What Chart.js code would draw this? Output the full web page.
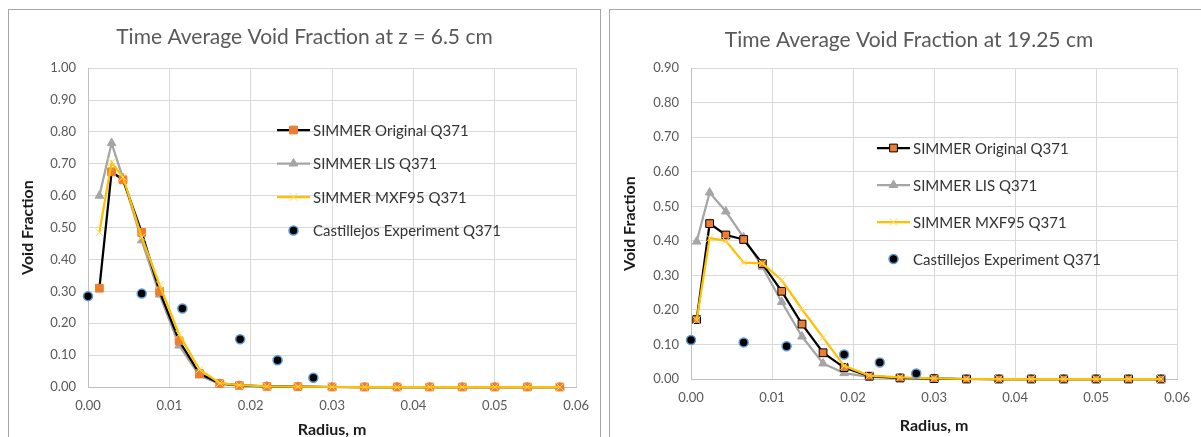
<!DOCTYPE html>
<html>
<head>
<meta charset="utf-8">
<script src="https://cdn.jsdelivr.net/npm/chart.js@4/dist/chart.umd.min.js"></script>
<style>
body { margin: 0; background: #fff; width: 1201px; height: 437px; overflow: hidden; position: relative; }
.frame { position: absolute; border: 1px solid #a6a6a6; border-bottom: none; }
canvas { position: absolute; }
</style>
</head>
<body>
<div class="frame" style="left:8px;top:9px;width:591px;height:440px"></div>
<div class="frame" style="left:609px;top:9px;width:600px;height:440px;border-right:none"></div>
<canvas id="chartLeft" width="591" height="427" style="left:9px;top:10px"></canvas>
<canvas id="chartRight" width="591" height="427" style="left:610px;top:10px"></canvas>
<script>
// --- z = 6.5 cm ---
const radiusLeft = [0.0014, 0.0029, 0.0043, 0.0066, 0.0088, 0.0112, 0.0137, 0.0162, 0.0186, 0.0220,
    0.0258, 0.0300, 0.0340, 0.0380, 0.0420, 0.0460, 0.0500, 0.0540, 0.0580];
const originalLeft = [0.31, 0.675, 0.65, 0.485, 0.30, 0.145, 0.042, 0.011, 0.005, 0.002,
    0.001, 0, 0, 0, 0, 0, 0, 0, 0];
const lisLeft = [0.60, 0.765, 0.655, 0.46, 0.29, 0.13, 0.036, 0.010, 0.004, 0.002,
    0.001, 0, 0, 0, 0, 0, 0, 0, 0];
const mxfLeft = [0.485, 0.705, 0.658, 0.47, 0.32, 0.165, 0.055, 0.012, 0.006, 0.002,
    0.001, 0, 0, 0, 0, 0, 0, 0, 0];
const expRadiusLeft = [0.0, 0.0066, 0.0116, 0.0187, 0.0233, 0.0277];
const expLeft = [0.285, 0.293, 0.246, 0.150, 0.084, 0.029];

// --- z = 19.25 cm ---
const radiusRight = [0.0007, 0.0023, 0.0043, 0.0065, 0.0088, 0.0112, 0.0137, 0.0163, 0.0189, 0.0220,
    0.0258, 0.0300, 0.0340, 0.0380, 0.0420, 0.0460, 0.0500, 0.0540, 0.0580];
const originalRight = [0.172, 0.45, 0.417, 0.404, 0.334, 0.254, 0.159, 0.076, 0.033, 0.008,
    0.003, 0.001, 0, 0, 0, 0, 0, 0, 0];
const lisRight = [0.398, 0.54, 0.485, 0.41, 0.325, 0.223, 0.123, 0.045, 0.017, 0.006,
    0.002, 0.001, 0, 0, 0, 0, 0, 0, 0];
const mxfRight = [0.17, 0.408, 0.40, 0.337, 0.335, 0.286, 0.202, 0.12, 0.038, 0.010,
    0.005, 0.002, 0, 0, 0, 0, 0, 0, 0];
const expRadiusRight = [0.0, 0.0065, 0.0118, 0.0189, 0.0233, 0.0278];
const expRight = [0.113, 0.106, 0.095, 0.071, 0.048, 0.016];

const seriesLabels = ["SIMMER Original Q371", "SIMMER LIS Q371", "SIMMER MXF95 Q371", "Castillejos Experiment Q371"];
const FONT = "Lato, 'Open Sans', sans-serif";

function pairs(xs, ys) {
    return xs.map((x, i) => ({ x: x, y: ys[i] }));
}

// legend drawn inside the plot area, like the Excel one
const insideLegend = {
    id: "insideLegend",
    afterDraw(chart, args, opts) {
        const ctx = chart.ctx;
        ctx.save();
        chart.data.datasets.forEach((ds, i) => {
            const y = opts.y + i * opts.gap;
            const cx = opts.x + opts.lineLen / 2;
            if (ds.showLine) {
                ctx.strokeStyle = ds.borderColor;
                ctx.lineWidth = ds.borderWidth;
                ctx.beginPath();
                ctx.moveTo(opts.x, y);
                ctx.lineTo(opts.x + opts.lineLen, y);
                ctx.stroke();
            }
            ctx.fillStyle = ds.pointBackgroundColor;
            ctx.strokeStyle = ds.pointBorderColor;
            ctx.lineWidth = ds.pointBorderWidth;
            Chart.helpers.drawPoint(ctx, {
                pointStyle: ds.pointStyle,
                radius: ds.pointRadius,
                rotation: 0,
                borderWidth: ds.pointBorderWidth
            }, cx, y);
            ctx.fillStyle = "#333333";
            ctx.font = "15px " + FONT;
            ctx.textBaseline = "middle";
            ctx.textAlign = "left";
            ctx.fillText(ds.label, opts.x + opts.lineLen + 3, y + 1);
        });
        ctx.restore();
    }
};

function makeChart(id, cfg) {
    const ctx = document.getElementById(id).getContext("2d");
    return new Chart(ctx, {
        type: "scatter",
        data: {
            datasets: [{
                label: seriesLabels[0],
                data: pairs(cfg.radius, cfg.original),
                showLine: true,
                borderColor: "#000000",
                borderWidth: 2.25,
                pointStyle: "rect",
                pointRadius: 5.5,
                pointBackgroundColor: "#ED7D31",
                pointBorderColor: cfg.squareEdge,
                pointBorderWidth: 1,
                order: 3
            }, {
                label: seriesLabels[1],
                data: pairs(cfg.radius, cfg.lis),
                showLine: true,
                borderColor: "#A5A5A5",
                borderWidth: 2.25,
                pointStyle: "triangle",
                pointRadius: 5,
                pointBackgroundColor: "#A5A5A5",
                pointBorderColor: "#A5A5A5",
                pointBorderWidth: 1,
                order: 4
            }, {
                label: seriesLabels[2],
                data: pairs(cfg.radius, cfg.mxf),
                showLine: true,
                borderColor: "#FFC000",
                borderWidth: 2.25,
                pointStyle: "crossRot",
                pointRadius: 5.5,
                pointBackgroundColor: "#FFD966",
                pointBorderColor: "#FFD966",
                pointBorderWidth: 1,
                order: 2
            }, {
                label: seriesLabels[3],
                data: pairs(cfg.expRadius, cfg.exp),
                showLine: false,
                pointStyle: "circle",
                pointRadius: 4.5,
                pointBackgroundColor: "#000000",
                pointBorderColor: "#5B9BD5",
                pointBorderWidth: 1.5,
                order: 1
            }].map(d => Object.assign(d, { clip: false, tension: 0 }))
        },
        options: {
            responsive: false,
            animation: false,
            layout: { padding: { top: 0, left: cfg.padLeft, right: 22, bottom: 0 } },
            plugins: {
                legend: { display: false },
                tooltip: { enabled: false },
                title: {
                    display: true,
                    text: cfg.title,
                    color: "#595959",
                    font: { family: FONT, size: 21, weight: "normal" },
                    padding: cfg.titlePad
                },
                insideLegend: cfg.legend
            },
            scales: {
                x: {
                    type: "linear",
                    min: 0,
                    max: 0.06,
                    ticks: {
                        stepSize: 0.01,
                        color: "#595959",
                        font: { family: FONT, size: 13 },
                        padding: 11,
                        callback: v => v.toFixed(2)
                    },
                    grid: { color: "#d9d9d9", lineWidth: 1, drawTicks: false },
                    border: { color: "#bfbfbf" },
                    title: {
                        display: true,
                        text: "Radius, m",
                        color: "#1a1a1a",
                        font: { family: FONT, size: 16, weight: "bold" },
                        padding: { top: 0, bottom: cfg.xTitlePad }
                    },
                    afterFit: s => { s.height = cfg.xAxisHeight; }
                },
                y: {
                    min: 0,
                    max: cfg.yMax,
                    ticks: {
                        stepSize: 0.1,
                        color: "#595959",
                        font: { family: FONT, size: 13 },
                        padding: 12,
                        callback: v => v.toFixed(2)
                    },
                    grid: { color: "#d9d9d9", lineWidth: 1, drawTicks: false },
                    border: { color: "#bfbfbf" },
                    title: {
                        display: true,
                        text: "Void Fraction",
                        color: "#1a1a1a",
                        font: { family: FONT, size: 16, weight: "bold" },
                        padding: { top: cfg.yTitlePad, bottom: 0 }
                    },
                    afterFit: s => { s.width = cfg.yAxisWidth; }
                }
            }
        },
        plugins: [insideLegend]
    });
}

makeChart("chartLeft", {
    title: "Time Average Void Fraction at z = 6.5 cm",
    radius: radiusLeft, original: originalLeft, lis: lisLeft, mxf: mxfLeft,
    expRadius: expRadiusLeft, exp: expLeft,
    squareEdge: "#ED7D31",
    yMax: 1.0,
    titlePad: { top: 15, bottom: 18 },
    padLeft: 22,
    xAxisHeight: 50, xTitlePad: -2, yAxisWidth: 57, yTitlePad: -12.6,
    legend: { x: 268, y: 120, gap: 33.5, lineLen: 33 }
});

makeChart("chartRight", {
    title: "Time Average Void Fraction at 19.25 cm",
    radius: radiusRight, original: originalRight, lis: lisRight, mxf: mxfRight,
    expRadius: expRadiusRight, exp: expRight,
    squareEdge: "#000000",
    yMax: 0.9,
    titlePad: { top: 18, bottom: 15 },
    padLeft: 29,
    xAxisHeight: 58, xTitlePad: 2, yAxisWidth: 52, yTitlePad: -18.6,
    legend: { x: 267, y: 138, gap: 37, lineLen: 33 }
});
</script>
</body>
</html>
